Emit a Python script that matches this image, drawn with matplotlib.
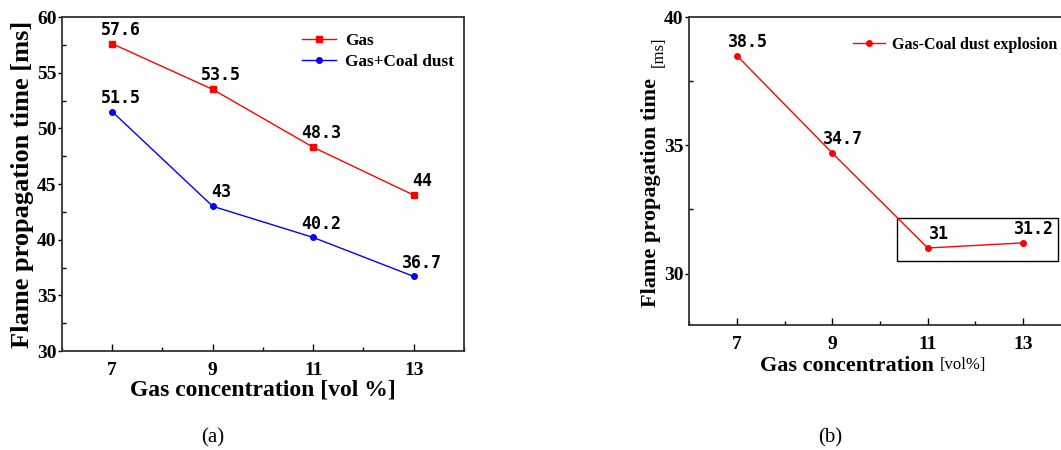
import matplotlib.pyplot as plt
from matplotlib.patches import Rectangle
from matplotlib.ticker import MultipleLocator

plt.rcParams['font.family'] = ['Liberation Serif', 'DejaVu Serif']

# panel (a)
conc = [7, 9, 11, 13]
gas = [57.6, 53.5, 48.3, 44]
gas_coal = [51.5, 43, 40.2, 36.7]
# panel (b)
expl = [38.5, 34.7, 31, 31.2]

lbl_font = dict(family='DejaVu Sans Mono', fontsize=12, fontweight='bold')

fig = plt.figure(figsize=(10.61, 4.5), dpi=100)
ax1 = fig.add_axes([0.0584, 0.22, 0.3789, 0.7422])
ax2 = fig.add_axes([0.6494, 0.2778, 0.36, 0.6844])


def style(ax):
    for s in ax.spines.values():
        s.set_linewidth(1.3)
        s.set_color('#333333')
    ax.xaxis.set_minor_locator(MultipleLocator(1))
    ax.yaxis.set_minor_locator(MultipleLocator(2.5))
    ax.tick_params(axis='x', which='major', direction='in', length=5, width=1, pad=8)
    ax.tick_params(axis='x', which='minor', direction='in', length=3, width=1)
    ax.tick_params(axis='y', which='major', direction='out', length=3, width=1, pad=1)
    ax.tick_params(axis='y', which='minor', direction='in', length=3, width=1)
    ax.set_xticks(conc)
    for t in ax.get_xticklabels() + ax.get_yticklabels():
        t.set_fontweight('bold')
        t.set_fontsize(14)


# ---- (a)
ax1.plot(conc, gas, color='red', marker='s', ms=4, lw=1, label='Gas')
ax1.plot(conc, gas_coal, color='blue', marker='o', ms=4, lw=1, label='Gas+Coal dust')
for x, y in zip(conc, gas):
    ax1.annotate(f'{y:g}', (x, y), xytext=(6, 10), textcoords='offset points',
                 ha='center', va='center', **lbl_font)
for x, y in zip(conc, gas_coal):
    ax1.annotate(f'{y:g}', (x, y), xytext=(6, 10), textcoords='offset points',
                 ha='center', va='center', **lbl_font)
ax1.set_xlim(6, 14)
ax1.set_ylim(30, 60)
ax1.set_yticks([30, 35, 40, 45, 50, 55, 60])
style(ax1)
ax1.set_xlabel('Gas concentration [vol %]', fontsize=17, fontweight='bold', labelpad=0)
ax1.set_ylabel('Flame propagation time [ms]', fontsize=19, fontweight='bold', labelpad=2)
ax1.legend(loc='upper right', bbox_to_anchor=(1.013, 1.0), frameon=False,
           prop={'weight': 'bold', 'size': 12.4}, handlelength=2.0,
           handletextpad=0.5, labelspacing=0.3)

# ---- (b)
ax2.plot(conc, expl, color='red', marker='o', ms=4, lw=1, label='Gas-Coal dust explosion')
for x, y in zip(conc, expl):
    ax2.annotate(f'{y:g}', (x, y), xytext=(8, 10), textcoords='offset points',
                 ha='center', va='center', **lbl_font)
ax2.add_patch(Rectangle((10.36, 30.5), 3.36, 1.65, fill=False, ec='black', lw=1))
ax2.set_xlim(6, 14)
ax2.set_ylim(28, 40)
ax2.set_yticks([30, 35, 40])
style(ax2)
ax2.spines['right'].set_visible(False)
ax2.set_xlabel('Gas concentration', fontsize=16, fontweight='bold', labelpad=2)
ax2.xaxis.label.set_x(0.414)
fig.text(0.886, 0.189, '[vol%]', fontsize=12, ha='left', va='center')
ax2.set_ylabel('Flame propagation time', fontsize=16, fontweight='bold', labelpad=2)
ax2.yaxis.label.set_y(0.43)
fig.text(0.621, 0.884, '[ms]', fontsize=12, rotation=90, ha='center', va='center')
ax2.legend(loc='upper right', bbox_to_anchor=(1.003, 0.983), frameon=False,
           prop={'weight': 'bold', 'size': 11.5}, handlelength=2.0, handletextpad=0.5)

fig.text(0.2, 0.028, '(a)', fontsize=15, ha='center', va='center')
fig.text(0.782, 0.028, '(b)', fontsize=15, ha='center', va='center')

fig.savefig('out.png', dpi=100)
